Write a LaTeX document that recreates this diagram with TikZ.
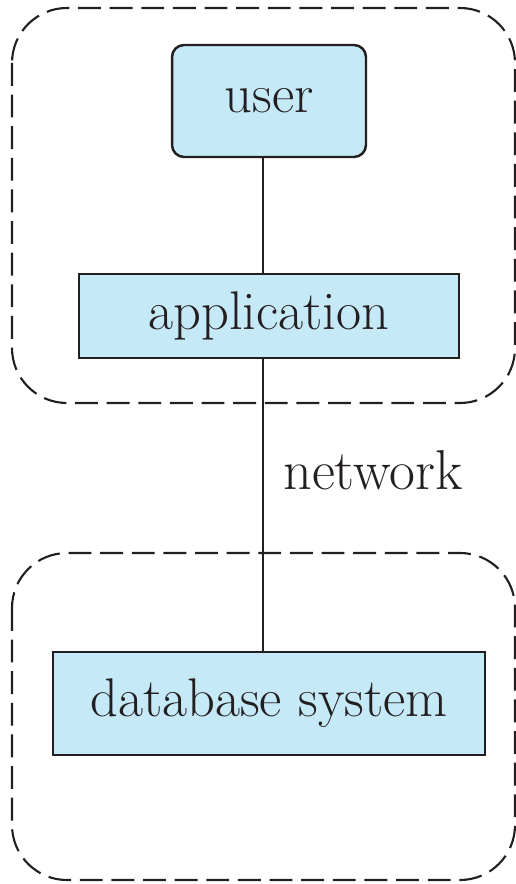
\documentclass[tikz,border=0pt]{standalone}
\definecolor{boxblue}{RGB}{198,233,248}
\definecolor{ink}{RGB}{35,31,32}
\tikzset{
compbox/.style={
	  draw=ink, fill=boxblue, line width=1.4pt, inner sep=0pt, text=ink,
	    font=\fontsize{31}{37}\selectfont},
zone/.style={
	  draw=ink, dash pattern=on 13pt off 5pt, line width=1.2pt,
	    rounded corners=1.1cm}
}

\begin{document}
\begin{tikzpicture}[x=0.02cm, y=-0.02cm]
	\useasboundingbox (0,0) rectangle (516,884);
	\draw[zone] (12,8) rectangle (515,403);
	\draw[zone] (12,553) rectangle (515,880);
	\node[compbox, rounded corners=0.24cm, minimum width=3.88cm,
		minimum height=2.24cm] (user) at (269,101) {user};
	\node[compbox, minimum width=7.6cm, minimum height=1.68cm] (app) at (269,316) {application};
	\node[compbox, minimum width=8.64cm, minimum height=2.06cm] (dbsys) at (269,703.5) {database system};
	\draw[ink, line width=1.1pt] ([xshift=-0.12cm]user.south) -- ([xshift=-0.12cm]app.north);
	\draw[ink, line width=1.1pt] ([xshift=-0.12cm]app.south) -- ([xshift=-0.12cm]dbsys.north);
	\node[anchor=base west, text=ink, inner sep=0pt, font=\fontsize{32}{38}\selectfont] (net) at (283,489) {network};
\end{tikzpicture}
\end{document}
